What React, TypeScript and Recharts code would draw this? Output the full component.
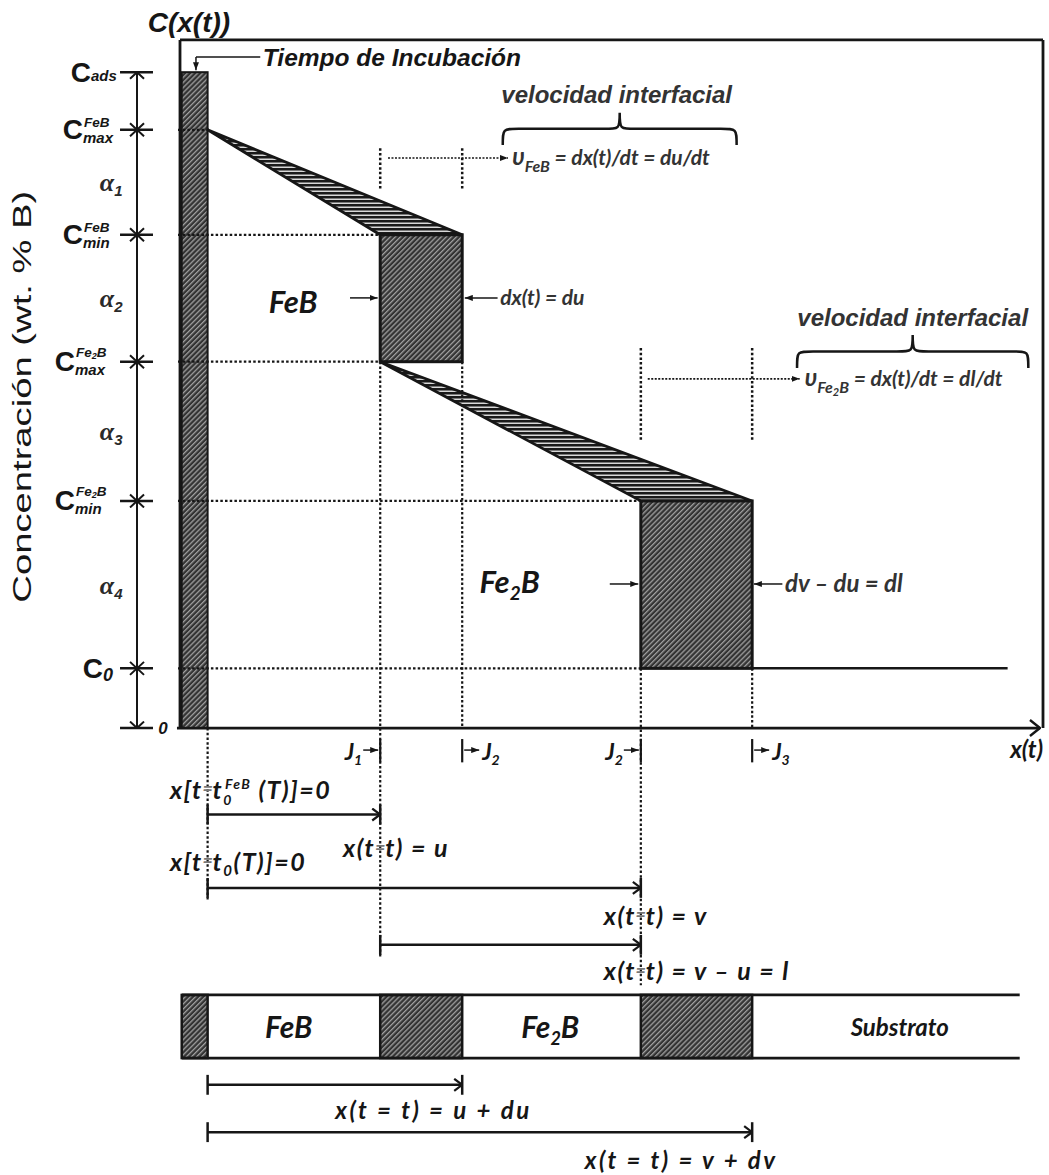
import React from 'react';
import { ComposedChart, XAxis, YAxis, Line, ReferenceArea, ReferenceLine, ReferenceDot } from 'recharts';

// concentration levels (schematic wt. % B)
const levelNames = ['Cads', 'CmaxFeB', 'CminFeB', 'CmaxFe2B', 'CminFe2B', 'C0', 'cero'];
const levelValues = [95.6, 87.2, 71.9, 53.4, 33.1, 8.7, 0];
const levelSub = ['ads', 'max', 'min', 'max', 'min', '0', ''];
const levelSup = ['', 'FeB', 'FeB', 'Fe2B', 'Fe2B', '', ''];
const alphaLabels = ['1', '2', '3', '4'];

// interface positions along x(t)
const frontNames = ['x0', 'u', 'u+du', 'v', 'v+dv'];
const frontValues = [3.2, 23.2, 32.7, 53.4, 66.3];
const incubationStart = 0.2;
const substrateEnd = 95.9;
const layerEnd = 97.3;
const layerLabels = ['FeB', 'Fe2B', 'Substrato'];

const ARIAL = '"Liberation Sans", Arial, sans-serif';
const CAL = 'Lato, "Open Sans", sans-serif';
const SERIF = '"Liberation Serif", "DejaVu Serif", serif';
const INK = '#161616';
const DOT = '2.5 2.2';

const bi = (size: number, family = ARIAL) => ({
  fontFamily: family,
  fontSize: size,
  fontWeight: 700,
  fontStyle: 'italic' as const,
  fill: INK,
});

type SegOpt = { w?: number; dash?: string; start?: string; end?: string };
const seg = (key: string, x1: number, y1: number, x2: number, y2: number, o: SegOpt = {}) => (
  <ReferenceLine
    key={key}
    ifOverflow="visible"
    segment={[{ x: x1, y: y1 }, { x: x2, y: y2 }]}
    shape={(p: any) => (
      <line
        x1={p.x1} y1={p.y1} x2={p.x2} y2={p.y2}
        stroke={INK}
        strokeWidth={o.w ?? 2}
        strokeDasharray={o.dash}
        markerStart={o.start ? `url(#${o.start})` : undefined}
        markerEnd={o.end ? `url(#${o.end})` : undefined}
      />
    )}
  />
);

const note = (key: string, x: number, y: number, draw: (cx: number, cy: number) => React.ReactElement) => (
  <ReferenceDot key={key} x={x} y={y} r={1} ifOverflow="visible" shape={(p: any) => draw(p.cx, p.cy)} />
);

const area = (key: string, x1: number, x2: number, y1: number, y2: number, draw: (p: any) => React.ReactElement) => (
  <ReferenceArea key={key} x1={x1} x2={x2} y1={y1} y2={y2} ifOverflow="visible" shape={(p: any) => draw(p)} />
);

const hatchRect = (key: string, x1: number, x2: number, y1: number, y2: number, w = 2.5) =>
  area(key, x1, x2, y1, y2, (p) => (
    <rect x={p.x} y={p.y} width={p.width} height={p.height} fill="url(#hatchD)" stroke={INK} strokeWidth={w} />
  ));

// triangular band: apex at (xa, top), base from xb to xc at bottom
const wedge = (key: string, xa: number, xb: number, xc: number, top: number, bottom: number) =>
  area(key, xa, xc, bottom, top, (p) => {
    const r = (xb - xa) / (xc - xa);
    const pts = `${p.x},${p.y} ${p.x + p.width},${p.y + p.height} ${p.x + p.width * r},${p.y + p.height}`;
    return <polygon points={pts} fill="url(#hatchH)" stroke={INK} strokeWidth={2.8} />;
  });

const brace = (key: string, x1: number, x2: number, y1: number, y2: number) =>
  area(key, x1, x2, y1, y2, (p) => {
    const { x, y, width: w, height: h } = p;
    const m = y + h * 0.5;
    const cx = x + w / 2;
    const k = 16;
    const d = `M${x},${y + h} C${x},${m} ${x},${m} ${x + k},${m} L${cx - k},${m} C${cx},${m} ${cx},${m} ${cx},${y} ` +
      `C${cx},${m} ${cx},${m} ${cx + k},${m} L${x + w - k},${m} C${x + w},${m} ${x + w},${m} ${x + w},${y + h}`;
    return <path d={d} fill="none" stroke={INK} strokeWidth={2.5} />;
  });

const span = (key: string, xa: number, xb: number, y: number) => [
  seg(key + 'l', xa, y, xb, y, { w: 2.5, end: 'chev' }),
  seg(key + 'a', xa, y + 1.45, xa, y - 1.45, { w: 2.5 }),
  seg(key + 'b', xb, y + 1.45, xb, y - 1.45, { w: 2.5 }),
];

const eqLabel = (key: string, fx: number, y: number, left: string, right: React.ReactNode, size = 25) =>
  note(key, fx, y, (cx, cy) => (
    <g>
      <text x={cx - 5} y={cy} dy="0.35em" textAnchor="end" letterSpacing={1.5} {...bi(size, CAL)}>{left}</text>
      <text x={cx} y={cy} dy="0.3em" textAnchor="middle" {...bi(size - 7, CAL)} fill="#777">=</text>
      <text x={cx + 5} y={cy} dy="0.35em" letterSpacing={1.5} {...bi(size, CAL)}>{right}</text>
    </g>
  ));

const jLabel = (key: string, fx: number, idx: string, side: 'left' | 'right') =>
  note(key, fx, -3.5, (cx, cy) =>
    side === 'left' ? (
      <g>
        <line x1={cx - 17} y1={cy - 2} x2={cx - 2} y2={cy - 2} stroke={INK} strokeWidth={1.5} markerEnd="url(#triS)" />
        <text x={cx - 18} y={cy} dy="0.35em" textAnchor="end" {...bi(23, CAL)}>
          J<tspan fontSize={14} dy={5}>{idx}</tspan>
        </text>
      </g>
    ) : (
      <g>
        <line x1={cx + 2} y1={cy - 2} x2={cx + 17} y2={cy - 2} stroke={INK} strokeWidth={1.5} markerEnd="url(#triS)" />
        <text x={cx + 20} y={cy} dy="0.35em" {...bi(23, CAL)}>
          J<tspan fontSize={14} dy={5}>{idx}</tspan>
        </text>
      </g>
    ),
  );

export default function App() {
  const [cAds, cMaxFeB, cMinFeB, cMaxFe2B, cMinFe2B, c0] = levelValues;
  const [x0, u, uDu, v, vDv] = frontValues;
  const substrateLine = [
    { x: vDv, c: c0 },
    { x: substrateEnd, c: c0 },
  ];
  const barTop = -38.9;
  const barBot = -48.1;
  const dimX = -4.98;

  const els: React.ReactElement[] = [];

  // filled regions
  els.push(hatchRect('incub', incubationStart, x0, 0, cAds, 2));
  els.push(wedge('wFeB', x0, u, uDu, cMaxFeB, cMinFeB));
  els.push(hatchRect('rFeB', u, uDu, cMaxFe2B, cMinFeB, 3));
  els.push(wedge('wFe2B', u, v, vDv, cMaxFe2B, cMinFe2B));
  els.push(hatchRect('rFe2B', v, vDv, c0, cMinFe2B, 3));
  els.push(hatchRect('b0', incubationStart, x0, barBot, barTop, 2.5));
  els.push(hatchRect('b1', u, uDu, barBot, barTop, 2.5));
  els.push(hatchRect('b2', v, vDv, barBot, barTop, 2.5));
  els.push(brace('br1', 37.4, 64.5, 85.0, 89.7));
  els.push(brace('br2', 71.5, 98.3, 52.5, 57.3));

  // frame and axis
  els.push(seg('fl', 0, 0, 0, 100.3, { w: 2.8 }));
  els.push(seg('ft', 0, 100.3, 100, 100.3, { w: 2.8 }));
  els.push(seg('fr', 100, 100.3, 100, 0, { w: 2.8 }));
  els.push(seg('ax', -0.35, 0, 99.65, 0, { w: 2.8, end: 'chevL' }));

  // left dimension chain
  levelValues.forEach((lvl, i) => {
    els.push(seg(`tk${i}`, -6.95, lvl, -3.13, lvl, { w: 2.5 }));
    if (i < levelValues.length - 1) {
      els.push(seg(`dm${i}`, dimX, lvl, dimX, levelValues[i + 1], { w: 2, start: 'dimChev', end: 'dimChev' }));
    }
  });

  // dotted guides
  els.push(seg('h1', -0.23, cMaxFeB, x0, cMaxFeB, { w: 2.2, dash: DOT }));
  els.push(seg('h2', -0.23, cMinFeB, u, cMinFeB, { w: 2.2, dash: DOT }));
  els.push(seg('h3', -0.23, cMaxFe2B, u, cMaxFe2B, { w: 2.2, dash: DOT }));
  els.push(seg('h4', -0.23, cMinFe2B, v, cMinFe2B, { w: 2.2, dash: DOT }));
  els.push(seg('h5', -0.23, c0, v, c0, { w: 2.2, dash: DOT }));
  els.push(seg('v0', x0, 0, x0, -25, { w: 2.2, dash: DOT }));
  els.push(seg('v1', u, cMaxFe2B, u, -33.4, { w: 2.2, dash: DOT }));
  els.push(seg('v2', uDu, cMaxFe2B, uDu, 0, { w: 2.2, dash: DOT }));
  els.push(seg('v3', v, c0, v, -37.5, { w: 2.2, dash: DOT }));
  els.push(seg('v4', vDv, c0, vDv, 0, { w: 2.2, dash: DOT }));
  els.push(seg('m1', u, 84.5, u, 78.4, { w: 2.5, dash: DOT }));
  els.push(seg('m2', uDu, 84.5, uDu, 78.4, { w: 2.5, dash: DOT }));
  els.push(seg('m3', v, 55.4, v, 42.0, { w: 2.5, dash: DOT }));
  els.push(seg('m4', vDv, 55.4, vDv, 42.0, { w: 2.5, dash: DOT }));
  els.push(seg('a1', 24.1, 83.1, 38.0, 83.1, { w: 1.6, dash: '2 1.5', end: 'triS' }));
  els.push(seg('a2', 54.2, 50.9, 71.8, 50.9, { w: 1.6, dash: '2 1.5', end: 'triS' }));

  // J ticks
  [u, uDu, v, vDv].forEach((f, i) => els.push(seg(`jt${i}`, f, -1.6, f, -5.0, { w: 2.2 })));

  // small arrows
  els.push(seg('ti1', 9.3, 97.8, 1.85, 97.8, { w: 1.5 }));
  els.push(seg('ti2', 1.85, 97.8, 1.85, 95.9, { w: 1.5, end: 'triS' }));
  els.push(seg('fa1', 19.7, 62.7, 22.9, 62.7, { w: 1.5, end: 'triS' }));
  els.push(seg('fa2', 36.8, 62.7, 33.0, 62.7, { w: 1.5, end: 'triS' }));
  els.push(seg('fb1', 49.8, 21.0, 53.1, 21.0, { w: 1.5, end: 'triS' }));
  els.push(seg('fb2', 69.8, 21.0, 66.5, 21.0, { w: 1.5, end: 'triS' }));

  // lower spans
  els.push(...span('s1', x0, u, -12.6));
  els.push(...span('s2', x0, v, -23.3));
  els.push(...span('s3', u, v, -31.6));
  els.push(...span('s4', x0, uDu, -52.0));
  els.push(...span('s5', x0, vDv, -58.9));

  // layer bar outline
  els.push(seg('lb1', incubationStart, barTop, layerEnd, barTop, { w: 2.8 }));
  els.push(seg('lb2', incubationStart, barBot, layerEnd, barBot, { w: 2.8 }));

  // level labels
  const stackW = [26, 34, 34, 42, 42, 14];
  levelValues.slice(0, 6).forEach((lvl, i) => {
    els.push(
      note(`lab${i}`, -7.3, lvl, (cx, cy) => {
        const sx = cx - stackW[i];
        const sup = levelSup[i];
        return (
          <g>
            <text x={sx} y={cy + 9.5} textAnchor="end" fontFamily={ARIAL} fontWeight={700} fontSize={28} fill={INK}>C</text>
            {sup && (
              <text x={sx + 1} y={sup === 'Fe2B' ? cy - 5 : cy - 3} {...bi(13.5)}>
                {sup === 'Fe2B' ? (
                  <>
                    Fe<tspan fontSize={9} dy={2.5}>2</tspan>
                    <tspan dy={-2.5}>B</tspan>
                  </>
                ) : sup}
              </text>
            )}
            <text x={sx} y={sup ? cy + 13 : i === 5 ? cy + 13 : cy + 9} {...bi(i === 5 ? 18 : 15)}>{levelSub[i]}</text>
          </g>
        );
      }),
    );
  });
  els.push(note('zero', -1.97, 0, (cx, cy) => <text x={cx} y={cy} dy="0.35em" textAnchor="middle" {...bi(17)}>0</text>));
  alphaLabels.forEach((a, i) => {
    const mid = (levelValues[i + 1] + levelValues[i + 2]) / 2;
    els.push(
      note(`al${i}`, -9.3, mid, (cx, cy) => (
        <text x={cx} y={cy} dy="0.35em" fontFamily={SERIF} fontWeight={700} fontStyle="italic" fontSize={26} fill="#2a2a2a">
          α<tspan fontSize={15} dy={5} fontFamily={ARIAL}>{a}</tspan>
        </text>
      )),
    );
  });
  els.push(
    note('ytitle', -18.3, 48.3, (cx, cy) => (
      <text
        x={cx} y={cy} dy="0.35em" textAnchor="middle"
        transform={`rotate(-90 ${cx} ${cy})`}
        fontFamily={ARIAL} fontSize={25} fill={INK}
        textLength={412} lengthAdjust="spacingAndGlyphs"
      >
        Concentración (wt. % B)
      </text>
    )),
  );

  // top texts
  els.push(note('title', 1.04, 102.9, (cx, cy) => <text x={cx} y={cy} dy="0.35em" textAnchor="middle" {...bi(28)}>C(x(t))</text>));
  els.push(note('tiempo', 9.6, 97.8, (cx, cy) => <text x={cx} y={cy} dy="0.35em" {...bi(24.5)}>Tiempo de Incubación</text>));
  els.push(note('vel1', 50.6, 92.3, (cx, cy) => <text x={cx} y={cy} dy="0.35em" textAnchor="middle" {...bi(24)} fill="#333">velocidad interfacial</text>));
  els.push(note('vel2', 84.9, 59.8, (cx, cy) => <text x={cx} y={cy} dy="0.35em" textAnchor="middle" {...bi(24)} fill="#333">velocidad interfacial</text>));
  els.push(
    note('uFeB', 38.5, 83.2, (cx, cy) => (
      <text x={cx} y={cy} dy="0.35em" {...bi(21, CAL)} fill="#333">
        <tspan fontSize={24}>υ</tspan>
        <tspan fontSize={16} dy={7}>FeB</tspan>
        <tspan dy={-7}> = dx(t)/dt = du/dt</tspan>
      </text>
    )),
  );
  els.push(
    note('uFe2B', 72.4, 51.0, (cx, cy) => (
      <text x={cx} y={cy} dy="0.35em" {...bi(21, CAL)} fill="#333">
        <tspan fontSize={24}>υ</tspan>
        <tspan fontSize={16} dy={7}>Fe</tspan>
        <tspan fontSize={11} dy={3}>2</tspan>
        <tspan fontSize={16} dy={-3}>B</tspan>
        <tspan dy={-7}> = dx(t)/dt = dl/dt</tspan>
      </text>
    )),
  );
  els.push(note('feb', 13.1, 62.1, (cx, cy) => <text x={cx} y={cy} dy="0.35em" textAnchor="middle" {...bi(31, CAL)}>FeB</text>));
  els.push(note('dxdu', 37.1, 62.7, (cx, cy) => <text x={cx} y={cy} dy="0.35em" {...bi(21, CAL)} fill="#333">dx(t) = du</text>));
  els.push(
    note('fe2b', 38.2, 21.3, (cx, cy) => (
      <text x={cx} y={cy} dy="0.35em" textAnchor="middle" {...bi(31, CAL)}>
        Fe<tspan fontSize={19} dy={7}>2</tspan>
        <tspan dy={-7}>B</tspan>
      </text>
    )),
  );
  els.push(note('dvdu', 70.1, 21.0, (cx, cy) => <text x={cx} y={cy} dy="0.35em" {...bi(24, CAL)} fill="#333">dv – du = dl</text>));
  els.push(jLabel('j1', u, '1', 'left'));
  els.push(jLabel('j2', uDu, '2', 'right'));
  els.push(jLabel('j3', v, '2', 'left'));
  els.push(jLabel('j4', vDv, '3', 'right'));
  els.push(note('xt', 98.1, -3.2, (cx, cy) => <text x={cx} y={cy} dy="0.35em" textAnchor="middle" {...bi(24, CAL)}>x(t)</text>));

  // lower texts
  els.push(
    eqLabel('e1', x0, -9.0, 'x[t', (
      <>
        t<tspan fontSize={14} dy={6}>0</tspan>
        <tspan fontSize={14} dx={-8} dy={-16}>FeB</tspan>
        <tspan dy={10}> (T)]=0</tspan>
      </>
    )),
  );
  els.push(eqLabel('e2', u, -17.5, 'x(t', 't) = u'));
  els.push(
    eqLabel('e3', x0, -19.5, 'x[t', (
      <>
        t<tspan fontSize={15} dy={5}>0</tspan>
        <tspan dy={-5}>(T)]=0</tspan>
      </>
    )),
  );
  els.push(eqLabel('e4', v, -27.4, 'x(t', 't) = v'));
  els.push(eqLabel('e5', v, -35.5, 'x(t', 't) = v – u = l'));
  els.push(note('e6', 18.0, -55.7, (cx, cy) => <text x={cx} y={cy} dy="0.35em" letterSpacing={2.5} {...bi(24, CAL)}>x(t = t) = u + du</text>));
  els.push(note('e7', 46.9, -63.0, (cx, cy) => <text x={cx} y={cy} dy="0.35em" letterSpacing={2.5} {...bi(24, CAL)}>x(t = t) = v + dv</text>));

  // layer bar labels
  const layerCenters = [12.6, 42.9, 83.4];
  layerLabels.forEach((name, i) => {
    els.push(
      note(`ly${i}`, layerCenters[i], -43.6, (cx, cy) => (
        <text x={cx} y={cy} dy="0.35em" textAnchor="middle" {...bi(name === 'Substrato' ? 24 : 30, CAL)}>
          {name === 'Fe2B' ? (
            <>
              Fe<tspan fontSize={18} dy={7}>2</tspan>
              <tspan dy={-7}>B</tspan>
            </>
          ) : name}
        </text>
      )),
    );
  });

  return (
    <div style={{ position: 'absolute', left: 0, top: 0, background: '#fff' }}>
      <svg width={0} height={0} style={{ position: 'absolute' }}>
        <defs>
          <pattern id="hatchD" width="3.6" height="3.6" patternUnits="userSpaceOnUse" patternTransform="rotate(45)">
            <rect width="3.6" height="3.6" fill="#333" />
            <rect width="1.3" height="3.6" fill="#a0a0a0" />
          </pattern>
          <pattern id="hatchH" width="8" height="4" patternUnits="userSpaceOnUse">
            <rect width="8" height="4" fill="#d8d8d8" />
            <rect width="8" height="2.5" fill="#1a1a1a" />
          </pattern>
          <marker id="chev" viewBox="0 0 10 14" refX="9" refY="7" markerWidth="10" markerHeight="14" markerUnits="userSpaceOnUse" orient="auto-start-reverse">
            <path d="M1,1 L9,7 L1,13" fill="none" stroke={INK} strokeWidth="2.2" />
          </marker>
          <marker id="chevL" viewBox="0 0 12 18" refX="11" refY="9" markerWidth="12" markerHeight="18" markerUnits="userSpaceOnUse" orient="auto-start-reverse">
            <path d="M1,1 L11,9 L1,17" fill="none" stroke={INK} strokeWidth="2.4" />
          </marker>
          <marker id="dimChev" viewBox="0 0 8 16" refX="7.5" refY="8" markerWidth="8" markerHeight="16" markerUnits="userSpaceOnUse" orient="auto-start-reverse">
            <path d="M1,1 L7.5,8 L1,15" fill="none" stroke={INK} strokeWidth="2" />
          </marker>
          <marker id="triS" viewBox="0 0 8 6" refX="8" refY="3" markerWidth="8" markerHeight="6" markerUnits="userSpaceOnUse" orient="auto-start-reverse">
            <path d="M0,0 L8,3 L0,6 z" fill={INK} />
          </marker>
        </defs>
      </svg>
      <ComposedChart width={1049} height={1175} margin={{ top: 42, right: 6, bottom: 1, left: 180 }}>
        <XAxis type="number" dataKey="x" domain={[0, 100]} hide allowDataOverflow />
        <YAxis type="number" domain={[-65, 100]} hide allowDataOverflow />
        {els}
        <Line data={substrateLine} dataKey="c" type="linear" stroke={INK} strokeWidth={2.5} dot={false} isAnimationActive={false} />
      </ComposedChart>
    </div>
  );
}
